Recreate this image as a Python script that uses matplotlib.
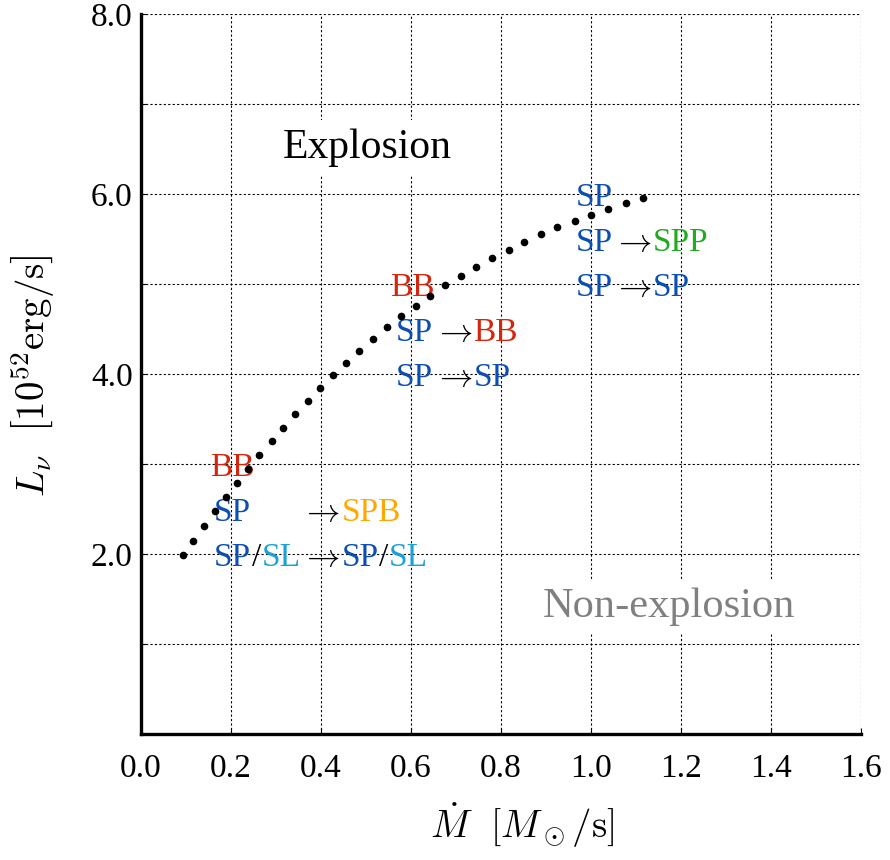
import matplotlib
matplotlib.use('Agg')
import matplotlib.pyplot as plt
from matplotlib.ticker import MultipleLocator, FuncFormatter

plt.rcParams['font.family'] = ['Liberation Serif', 'DejaVu Serif']
plt.rcParams['mathtext.fontset'] = 'cm'

# critical curve (mass accretion rate vs neutrino luminosity)
mdot = [0.093, 0.116, 0.140, 0.164, 0.188, 0.213, 0.237, 0.263, 0.290, 0.316,
        0.343, 0.370, 0.397, 0.426, 0.455, 0.485, 0.516, 0.546, 0.578, 0.610,
        0.643, 0.676, 0.711, 0.745, 0.780, 0.817, 0.852, 0.889, 0.925, 0.964,
        1.000, 1.038, 1.077, 1.115]
lnu = [1.99, 2.15, 2.31, 2.48, 2.63, 2.79, 2.94, 3.10, 3.25, 3.40,
       3.55, 3.70, 3.84, 3.99, 4.12, 4.26, 4.39, 4.52, 4.64, 4.76,
       4.87, 4.99, 5.09, 5.19, 5.29, 5.38, 5.47, 5.55, 5.63, 5.70,
       5.77, 5.83, 5.90, 5.95]

# mode label colours
blue = '#0b4fb3'
red = '#d4260f'
green = '#22aa22'
orange = '#ffa800'
cyan = '#1ba1d8'
gray = '#808080'

fig = plt.figure(figsize=(8.9, 8.6), dpi=100)
ax = fig.add_axes([141/890, 126/860, 720/890, 720/860])

ax.plot(mdot, lnu, 'o', color='k', ms=4.5, ls='none', zorder=4)

ax.set_xlim(0, 1.6)
ax.set_ylim(0, 8)
ax.xaxis.set_major_locator(MultipleLocator(0.2))
ax.yaxis.set_major_locator(MultipleLocator(1))
ax.xaxis.set_major_formatter(FuncFormatter(lambda v, p: f'{v:.1f}'))
ax.yaxis.set_major_formatter(FuncFormatter(
    lambda v, p: f'{v:.1f}' if v > 0.5 and int(round(v)) % 2 == 0 else ''))
ax.grid(True, color='k', ls=(0, (2, 2)), lw=0.8)
for s in ['top', 'right']:
    ax.spines[s].set_visible(False)
for s in ['left', 'bottom']:
    ax.spines[s].set_linewidth(2.4)
ax.tick_params(direction='in', length=4, width=0.8, labelsize=24)
ax.tick_params(axis='x', pad=14)
ax.tick_params(axis='y', pad=6)

fig.text(33/890, 1 - 376/860, r'$L_\nu\ \ \left[10^{52}{\rm erg/s}\right]$',
         rotation=90, ha='center', va='center', fontsize=28)
fig.text(522/890, 1 - 825/860, r'$\dot{M}\ \ \left[M_\odot/{\rm s}\right]$',
         ha='center', va='center', fontsize=28)

ax.text(0.503, 6.4, 'Explosion', ha='center', va='baseline', fontsize=30,
        bbox=dict(facecolor='white', edgecolor='none', pad=6))
ax.text(1.174, 1.30, 'Non-explosion', ha='center', va='baseline', fontsize=30.5,
        color=gray, bbox=dict(facecolor='white', edgecolor='none', pad=6))

FS = 24
arrow = r'$\rightarrow$'


def piece(s, c, anchor, y, fx=1):
    # next coloured piece placed right after the anchor text
    return ax.annotate(s, xy=(fx, y), xycoords=(anchor, 'data'),
                       xytext=(0.5, 0), textcoords='offset points', color=c,
                       fontsize=FS, va='baseline', ha='left')


def row(x, y, parts):
    t = ax.text(x, y, parts[0][0], color=parts[0][1], fontsize=FS, va='baseline')
    arts = [t]
    for s, c in parts[1:]:
        t = piece(s, c, t, y)
        arts.append(t)
    return arts


off = -0.13

# low accretion rate group
row(0.153, 3.0 + off, [('BB', red)])
row(0.162, 2.5 + off, [('SP', blue)])
r3 = row(0.162, 2.0 + off, [('SP', blue), ('/', 'k'), ('SL', cyan), (arrow, 'k'),
                            ('SP', blue), ('/', 'k'), ('SL', cyan)])
a = ax.annotate(arrow, xy=(0, 2.5 + off), xycoords=(r3[3], 'data'), color='k',
                fontsize=FS, va='baseline', ha='left')
piece('SPB', orange, a, 2.5 + off)

# middle group
row(0.553, 5.0 + off, [('BB', red)])
row(0.566, 4.5 + off, [('SP', blue), (arrow, 'k'), ('BB', red)])
row(0.566, 4.0 + off, [('SP', blue), (arrow, 'k'), ('SP', blue)])

# high accretion rate group
row(0.965, 6.0 + off, [('SP', blue)])
row(0.965, 5.5 + off, [('SP', blue), (arrow, 'k'), ('SPP', green)])
row(0.965, 5.0 + off, [('SP', blue), (arrow, 'k'), ('SP', blue)])

fig.savefig('out.png', dpi=100)
